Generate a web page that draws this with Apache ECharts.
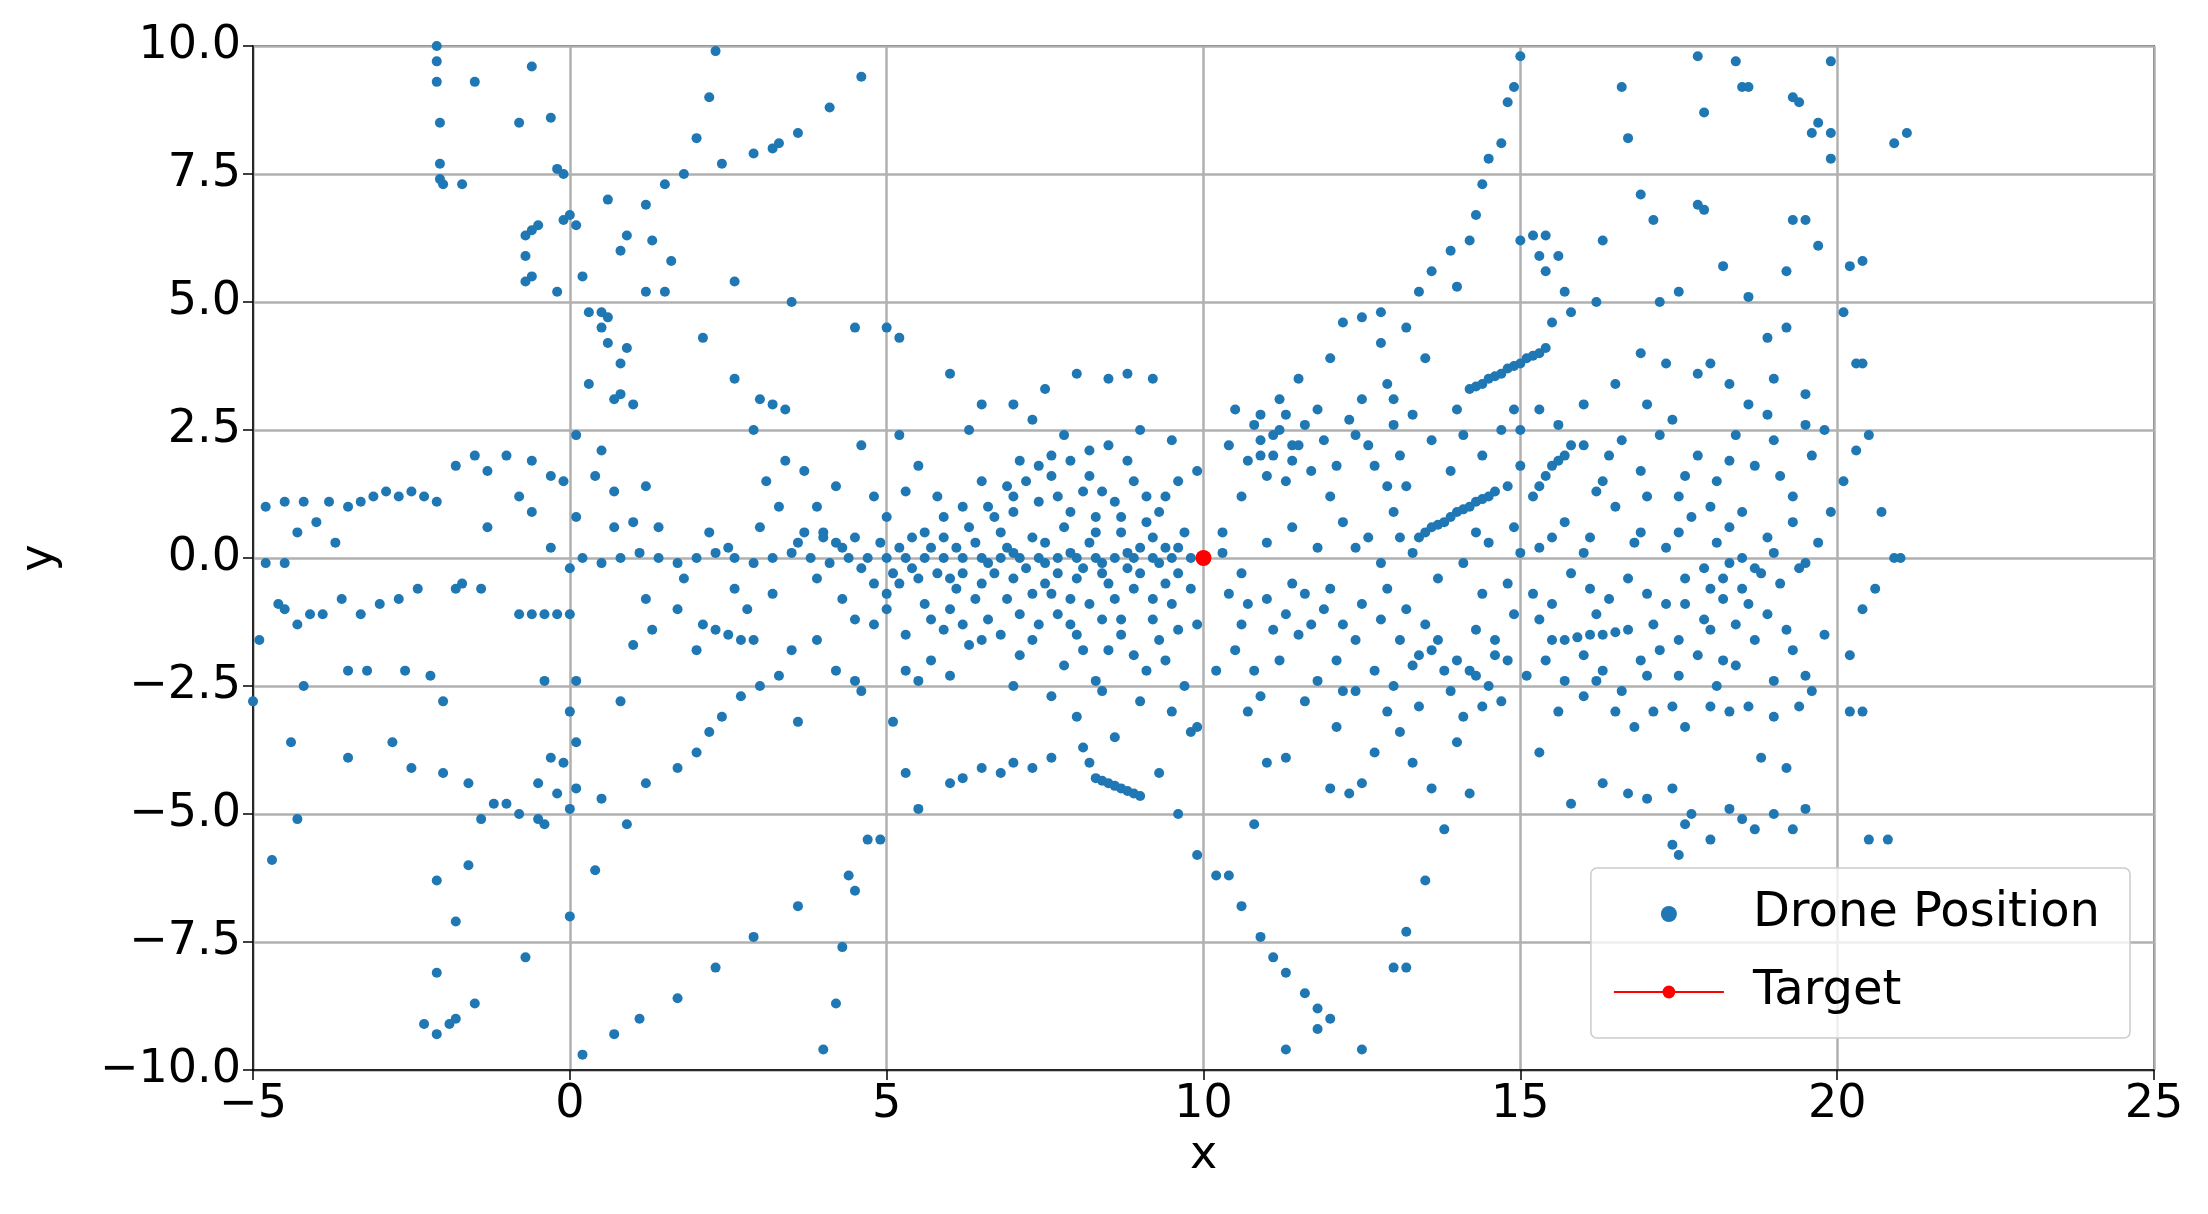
<!DOCTYPE html>
<html><head><meta charset="utf-8">
<script src="https://cdn.jsdelivr.net/npm/echarts@6/dist/echarts.min.js"></script>
<style>html,body{margin:0;padding:0;background:#fff}#c{width:2208px;height:1214px}</style>
</head><body><div id="c"></div>
<script>
const xTicks=[-5,0,5,10,15,20,25];
const yTicks=[-10,-7.5,-5,-2.5,0,2.5,5,7.5,10];
const targetPoint=[[10,0]];
const dronePoints=[
[-2.1,10],[-2.1,9.7],[-2.1,9.3],[-2.05,8.5],[-2.05,7.7],[-2.05,7.4],[-2,7.3],[-1.7,7.3],[-1.5,9.3],[-0.8,8.5],[-0.6,9.6],[-0.3,8.6],[-0.2,7.6],[-0.1,7.5],[-0.7,6.3],[-0.6,6.4],[-0.5,6.5],[-0.7,5.9],[-0.6,5.5],[-0.7,5.4],[-0.1,6.6],[0,6.7],[0.1,6.5],[0.2,5.5],[0.3,4.8],[0.5,4.8],[0.6,4.7],[0.5,4.5],[0.6,4.2],[0.9,4.1],[0.3,3.4],[0.8,3.2],[0.7,3.1],[0.1,2.4],[-0.2,5.2],[0.8,3.8],[1.0,3.0],
[1.2,6.9],[1.5,7.3],[1.8,7.5],[2.0,8.2],[2.2,9.0],[2.3,9.9],[2.4,7.7],[2.9,7.9],[3.2,8.0],[3.3,8.1],[3.6,8.3],[4.1,8.8],[4.6,9.4],[0.9,6.3],[0.6,7.0],[1.3,6.2],[1.6,5.8],[1.5,5.2],[1.2,5.2],[2.1,4.3],[2.6,5.4],[3.5,5.0],[4.5,4.5],[5.0,4.5],[5.2,4.3],[6.0,3.6],[0.8,6.0],
[2.6,3.5],[3.0,3.1],[3.2,3.0],[3.4,2.9],[2.9,2.5],[4.6,2.2],[5.2,2.4],[6.5,3.0],[7.0,3.0],[7.5,3.3],[8.0,3.6],[8.5,3.5],[8.8,3.6],[9.2,3.5],[7.3,2.7],[7.8,2.4],[6.3,2.5],
[-4.8,1.0],[-4.5,1.1],[-4.2,1.1],[-3.8,1.1],[-3.5,1.0],[-3.3,1.1],[-3.1,1.2],[-2.9,1.3],[-2.7,1.2],[-2.5,1.3],[-2.3,1.2],[-2.1,1.1],[-4.0,0.7],[-4.3,0.5],[-3.7,0.3],[-4.8,-0.1],[-4.5,-0.1],
[-4.6,-0.9],[-4.5,-1.0],[-4.3,-1.3],[-4.1,-1.1],[-3.9,-1.1],[-3.6,-0.8],[-3.3,-1.1],[-3.0,-0.9],[-2.7,-0.8],[-2.4,-0.6],[-1.7,-0.5],[-1.4,-0.6],[-4.9,-1.6],[-5,-2.8],[-4.4,-3.6],[-4.7,-5.9],[-4.3,-5.1],[-4.2,-2.5],[-3.5,-2.2],[-3.2,-2.2],[-2.6,-2.2],[-2.2,-2.3],[-3.5,-3.9],[-2.8,-3.6],[-2.5,-4.1],[-2.0,-4.2],[-1.6,-4.4],
[-1.8,1.8],[-1.5,2.0],[-1.3,1.7],[-1.0,2.0],[-0.6,1.9],[-0.3,1.6],[-0.1,1.5],[-1.3,0.6],[-0.8,1.2],[-0.6,0.9],[-0.3,0.2],[0.1,0.8],[0.4,1.6],[0.7,1.3],[0.5,2.1],[1.0,0.7],[1.2,1.4],
[-2.3,-9.1],[-2.1,-9.3],[-1.9,-9.1],[-1.8,-9.0],[-1.5,-8.7],[-1.8,-7.1],[-1.6,-6.0],[-1.4,-5.1],[-1.2,-4.8],[-1.0,-4.8],[-0.8,-5.0],[-0.5,-5.1],[-0.4,-5.2],[-2.1,-8.1],[-2.1,-6.3],[-2.0,-2.8],[-1.8,-0.6],
[0,-1.1],[-0.2,-1.1],[-0.4,-1.1],[-0.6,-1.1],[-0.8,-1.1],[0,-0.2],[0.1,-2.4],[0,-3.0],[-0.1,-4.0],[0,-4.9],[0.1,-4.5],[0,-7.0],[0.2,-9.7],[-0.7,-7.8],[-0.4,-2.4],[-0.3,-3.9],[-0.5,-4.4],[-0.2,-4.6],[0.1,-3.6],
[0.7,-9.3],[1.1,-9.0],[1.7,-8.6],[2.3,-8.0],[2.9,-7.4],[3.6,-6.8],[0.5,-4.7],[1.2,-4.4],[1.7,-4.1],[2.0,-3.8],[2.2,-3.4],[2.4,-3.1],[2.7,-2.7],[3.0,-2.5],[3.3,-2.3],[0.4,-6.1],[0.9,-5.2],[0.8,-2.8],[1.0,-1.7],[1.3,-1.4],
[4.0,-9.6],[4.2,-8.7],[4.3,-7.6],[4.5,-6.5],[4.7,-5.5],[4.9,-5.5],[4.4,-6.2],[3.6,-3.2],[4.2,-2.2],[4.5,-2.4],[5.3,-2.2],[5.5,-2.4],[5.1,-3.2],[5.3,-4.2],[4.6,-2.6],
[2.1,-1.3],[2.3,-1.4],[2.5,-1.5],[2.7,-1.6],[2.9,-1.6],[2.0,-1.8],[1.7,-1.0],[3.5,-1.8],[3.9,-1.6],
[5.5,-4.9],[6.0,-4.4],[6.5,-4.1],[7.0,-4.0],[7.3,-4.1],[7.6,-3.9],[8.1,-3.7],[8.6,-3.5],[6.2,-4.3],[6.8,-4.2],
[10.2,-6.2],[10.4,-6.2],[10.6,-6.8],[10.9,-7.4],[11.1,-7.8],[11.3,-8.1],[11.6,-8.5],[11.8,-8.8],[12.0,-9.0],[12.5,-9.6],[11.3,-9.6],[9.6,-5.0],[9.9,-5.8],[11.8,-9.2],[9.3,-4.2],
[8.3,-4.3],[8.4,-4.35],[8.5,-4.4],[8.6,-4.45],[8.7,-4.5],[8.8,-4.55],[8.9,-4.6],[9.0,-4.65],[8.2,-4.0],[8.0,-3.1],[8.4,-2.6],[9.0,-2.8],[9.5,-3.0],[9.8,-3.4],[9.9,-3.3],
[13.0,-8.0],[13.2,-7.3],[13.2,-8.0],[13.5,-6.3],[13.8,-5.3],[14.2,-4.6],[14.0,-3.6],[14.3,-2.3],[14.4,-2.9],[14.6,-1.6],[14.0,5.3],[14.3,6.7],[14.4,7.3],[14.5,7.8],[14.7,8.1],[14.8,8.9],[14.9,9.2],[15.0,9.8],[14.2,6.2],[13.9,6.0],[13.4,5.2],[13.6,5.6],[13.2,4.5],[12.8,4.2],[12.8,4.8],[12.5,4.7],
[14.2,3.3],[14.3,3.35],[14.4,3.4],[14.5,3.5],[14.6,3.55],[14.7,3.6],[14.8,3.7],[14.9,3.75],[15.0,3.8],[15.1,3.9],[15.2,3.95],[15.3,4.0],[15.4,4.1],
[13.4,0.4],[13.5,0.5],[13.6,0.6],[13.7,0.65],[13.8,0.7],[13.9,0.8],[14.0,0.9],[14.1,0.95],[14.2,1.0],[14.3,1.1],[14.4,1.15],[14.5,1.2],[14.6,1.3],[14.8,1.4],
[15.2,1.2],[15.3,1.4],[15.4,1.6],[15.5,1.8],[15.6,1.9],[15.7,2.0],[15.8,2.2],[15.6,2.6],[15.3,2.9],
[15.5,-1.6],[15.7,-1.6],[15.9,-1.55],[16.1,-1.5],[16.3,-1.5],[16.5,-1.45],[16.7,-1.4],
[15.0,6.2],[15.2,6.3],[15.4,6.3],[15.3,5.9],[15.6,5.9],[15.4,5.6],[15.7,5.2],[15.8,4.8],[16.2,5.0],[15.5,4.6],[16.3,6.2],[17.2,5.0],[17.5,5.2],[16.9,4.0],[17.3,3.8],
[19.9,9.7],[19.9,8.3],[19.9,7.8],[19.7,8.5],[20.2,5.7],[20.4,5.8],[20.3,3.8],[20.4,3.8],[20.5,2.4],[20.7,0.9],[20.9,0],[21.0,0],[20.6,-0.6],[20.4,-1.0],[20.2,-3.0],[20.4,-3.0],[20.5,-5.5],[20.8,-5.5],[20.9,8.1],[21.1,8.3],[20.1,4.8],[20.3,2.1],[20.1,1.5],[19.9,0.9],[20.2,-1.9],[19.8,-1.5],
[16.6,9.2],[16.7,8.2],[17.8,9.8],[17.9,8.7],[18.4,9.7],[18.5,9.2],[18.6,9.2],[19.3,9.0],[19.4,8.9],[19.6,8.3],[17.1,6.6],[17.8,6.9],[17.9,6.8],[18.2,5.7],[18.6,5.1],[19.3,6.6],[19.5,6.6],[19.7,6.1],[16.9,7.1],[19.2,5.6],[18.9,4.3],[19.2,4.5],
[16.5,-3.0],[16.8,-3.3],[17.1,-3.0],[17.4,-2.9],[17.6,-3.3],[18.0,-2.9],[18.3,-3.0],[18.6,-2.9],[19.0,-3.1],[19.4,-2.9],[16.3,-4.4],[16.7,-4.6],[17.0,-4.7],[17.4,-4.5],[17.6,-5.2],[17.5,-5.8],[17.7,-5.0],[18.0,-5.5],[18.3,-4.9],[18.5,-5.1],[18.7,-5.3],[19.0,-5.0],[19.3,-5.3],[19.5,-4.9],[19.2,-4.1],[18.8,-3.9],[15.8,-4.8],[15.3,-3.8],[15.6,-3.0],[16.0,-2.7],[17.4,-5.6],
[12.0,-4.5],[12.3,-4.6],[12.5,-4.4],[12.7,-3.8],[12.1,-3.3],[11.3,-3.9],[11.6,-2.8],[13.3,-4.0],[13.6,-4.5],[11.0,-4.0],[10.8,-5.2],[10.7,-3.0],
[0.2,0.0],[0.5,-0.1],[0.8,0.0],[1.1,0.1],[1.4,0.0],[1.7,-0.1],[2.0,0.0],[2.3,0.1],[2.6,0.0],[2.9,-0.1],[3.2,0.0],[3.5,0.1],[3.8,0.0],[4.1,-0.1],[4.4,0.0],[4.7,0.0],[5.0,0.0],[5.3,0.0],[5.6,0.0],[5.9,0.0],[6.2,0.0],[6.5,0.0],[6.8,0.0],[7.1,0.0],[7.4,0.0],[7.7,0.0],[8.0,0.0],[8.3,0.0],[8.6,0.0],[8.9,0.0],[9.2,0.0],[9.5,0.0],[9.8,0.0],[6.6,-0.1],[7.0,0.1],[7.5,-0.1],[7.9,0.1],[8.4,-0.1],[8.8,0.1],[9.3,-0.1],
[0.7,0.6],[1.4,0.6],[2.2,0.5],[2.5,0.2],[1.8,-0.4],[1.2,-0.8],[2.6,-0.6],[3.0,0.6],[3.3,1.0],[3.1,1.5],[3.4,1.9],[3.7,1.7],[3.9,1.0],[4.0,0.5],[3.6,0.3],[3.9,-0.4],[3.2,-0.7],[2.8,-1.0],[4.3,-0.8],[4.5,-1.2],[4.8,-1.3],[4.2,1.4],[4.8,1.2],[5.0,0.8],[5.3,1.3],[5.5,1.8],[5.8,1.2],[5.6,0.5],[5.2,-0.5],[5.6,-0.9],[5.9,-1.4],[6.1,-0.6],[6.3,0.6],[6.6,1.0],[6.9,1.4],[7.2,1.5],[7.4,1.8],[7.6,1.6],[7.9,1.9],[8.1,1.3],[8.3,0.8],[8.6,1.1],[8.9,1.5],[9.1,0.7],[9.4,1.2],[9.7,0.5],[9.9,1.7],[9.5,2.3],[9.0,2.5],[8.5,2.2],
[6.3,-1.7],[6.6,-1.2],[6.9,-0.8],[7.1,-1.9],[7.4,-1.3],[7.6,-0.7],[7.8,-2.1],[8.0,-1.5],[8.2,-0.9],[8.5,-1.8],[8.7,-1.2],[8.9,-0.6],[9.1,-2.2],[9.3,-1.6],[9.5,-0.9],[9.7,-2.5],[9.9,-1.3],[6.0,-2.3],[5.7,-2.0],[7.0,-2.5],[7.6,-2.7],[8.3,-2.4],[9.4,-2.0],
[4.5,0.4],[4.9,0.3],[5.4,0.4],[5.8,-0.3],[6.4,0.3],[6.8,0.5],[7.3,0.4],[7.8,0.6],[8.2,0.3],[8.7,0.5],[9.2,0.4],[9.6,0.2],[5.1,-0.3],[5.5,-0.4],[6.0,-0.4],[6.5,-0.5],[7.0,-0.4],[7.5,-0.5],[8.0,-0.4],[8.5,-0.5],[9.0,-0.3],[9.4,-0.5],[3.7,0.5],[4.0,0.4],[4.2,0.3],
[4.3,0.2],[4.6,-0.2],[4.8,-0.5],[5.0,-0.7],[5.2,0.2],[5.4,-0.2],[5.7,0.2],[5.9,0.4],[6.1,0.2],[6.2,-0.3],[6.4,-0.8],[6.7,-0.3],[6.9,0.2],[7.2,-0.2],[7.3,-0.7],[7.5,0.3],[7.7,-0.3],[7.9,-0.8],[8.1,-0.2],[8.3,0.5],[8.4,-0.3],[8.6,-0.8],[8.8,-0.2],[9.0,0.2],[9.2,-0.8],[9.4,0.2],[9.6,-0.3],[9.8,-0.6],
[5.0,-1.0],[5.3,-1.5],[5.7,-1.2],[6.0,-1.0],[6.2,-1.3],[6.5,-1.6],[6.8,-1.5],[7.1,-1.1],[7.3,-1.6],[7.7,-1.1],[7.9,-1.3],[8.1,-1.8],[8.4,-1.2],[8.7,-1.5],[8.9,-1.9],[9.2,-1.2],[9.6,-1.4],
[5.9,0.8],[6.2,1.0],[6.5,1.5],[6.7,0.8],[7.0,0.9],[7.1,1.9],[7.4,1.1],[7.7,1.2],[7.9,0.9],[8.2,1.6],[8.4,1.3],[8.7,0.8],[8.8,1.9],[9.1,1.2],[9.3,0.9],[9.6,1.5],[7.0,1.2],[7.6,2.0],[8.2,2.1],
[10.3,0.5],[10.6,1.2],[10.9,2.0],[11.1,2.4],[11.3,2.8],[11.5,2.2],[11.7,1.7],[11.0,1.6],[10.8,2.6],[10.5,2.9],[11.2,3.1],[11.6,2.6],[11.9,2.3],[12.1,1.8],[12.3,2.7],[12.6,2.2],[12.9,1.4],[13.1,2.0],[13.3,2.8],[13.6,2.3],[13.9,1.7],[14.1,2.4],[14.4,2.0],[14.7,2.5],[15.0,1.8],[15.0,2.5],[16.0,2.2],[16.3,1.5],[16.6,2.3],[16.9,1.7],[17.2,2.4],[17.5,1.2],[17.8,2.0],[18.1,1.5],[18.4,2.4],[18.7,1.8],[19.0,2.3],[19.3,1.2],[19.6,2.0],[10.9,2.3],[11.1,2.0],[11.4,1.9],[10.7,1.9],
[10.4,-0.7],[10.7,-0.9],[11.0,-0.8],[11.3,-1.1],[11.6,-0.7],[11.9,-1.0],[12.2,-1.3],[12.5,-0.9],[12.8,-1.2],[13.1,-1.6],[13.4,-1.9],[13.7,-1.6],[14.0,-2.0],[14.3,-1.4],[14.6,-1.9],[14.9,-1.1],[15.2,-0.7],[15.5,-0.9],[15.8,-0.3],[16.1,-0.6],[16.4,-0.8],[16.7,-0.4],[17.0,-0.7],[17.3,-0.9],[17.6,-0.4],[17.9,-0.2],[18.2,-0.4],[18.5,-0.6],[18.8,-0.3],[19.1,-0.5],[19.4,-0.2],
[10.5,-1.8],[10.8,-2.2],[11.2,-2.0],[11.5,-1.5],[11.8,-2.4],[12.1,-2.0],[12.4,-2.6],[12.7,-2.2],[13.0,-2.5],[13.3,-2.1],[13.6,-1.8],[13.9,-2.6],[14.2,-2.2],[14.5,-2.5],[14.8,-2.0],[15.1,-2.3],[15.4,-2.0],[15.7,-2.4],[16.0,-1.9],[16.3,-2.2],[16.6,-2.6],[16.9,-2.0],[17.2,-1.8],[17.5,-2.3],[17.8,-1.9],[18.1,-2.5],[18.4,-2.1],[18.7,-1.6],[19.0,-2.4],[19.3,-1.8],[19.6,-2.6],
[10.3,0.1],[10.6,-0.3],[11.0,0.3],[11.4,0.6],[11.8,0.2],[12.2,0.7],[12.6,0.4],[13.0,0.9],[13.3,0.1],[13.7,-0.4],[14.1,-0.1],[14.5,0.3],[14.9,0.6],[15.3,0.2],[15.7,0.7],[16.1,0.4],[16.5,1.0],[16.9,0.5],[17.3,0.2],[17.7,0.8],[18.1,0.3],[18.5,0.9],[18.9,0.4],[19.3,0.7],[19.7,0.3],[17.0,1.2],[18.0,1.0],[12.0,1.2],[13.2,1.4],[16.2,1.3],
[11.5,3.5],[12.0,3.9],[12.2,4.6],[12.9,3.4],[13.5,3.9],[14.0,2.9],[16.5,3.4],[17.0,3.0],[17.8,3.6],[18.0,3.8],[18.3,3.4],[18.6,3.0],[19.0,3.5],[19.5,3.2],[19.8,2.5],[16.0,3.0],[17.4,2.7],[18.9,2.8],
[17.6,-0.9],[17.9,-1.2],[18.2,-0.8],[18.4,-1.3],[18.6,-0.9],[18.0,-0.6],[18.3,-0.1],[18.5,0.0],[18.7,-0.2],
[10.4,2.2],[10.9,2.8],[11.2,2.5],[11.4,2.2],[11.8,2.9],[12.4,2.4],[11.3,1.5],[12.7,1.8],[13.0,2.6],[10.6,-1.3],[11.1,-1.4],[11.4,-0.5],[11.7,-1.3],[12.0,-0.6],[12.4,-1.6],[12.9,-0.6],[13.2,-1.0],[13.5,-1.3],[13.8,-2.2],[14.4,-0.7],[14.8,-0.5],[15.3,-1.2],[16.2,-1.1],[17.1,-1.3],[17.5,-1.6],[18.0,-1.4],[18.9,-1.1],[19.2,-1.4],
[12.2,-2.6],[12.9,-3.0],[13.4,-2.9],[13.1,-3.4],[14.1,-3.1],[14.7,-2.8],[10.9,-2.7],[10.2,-2.2],[16.2,-2.4],[17.0,-2.3],[18.2,-2.0],[19.5,-2.3],
[12.4,0.2],[12.8,-0.1],[13.1,0.4],[14.3,0.5],[15.0,0.1],[15.5,0.4],[16.0,0.1],[16.8,0.3],[17.5,0.5],[18.3,0.6],[19.0,0.1],[19.5,-0.1],[16.4,2.0],[17.6,1.6],[18.3,1.9],[19.1,1.6],[19.5,2.6],[12.5,3.1],[13.0,3.1],[14.9,2.9]
];
const fmt=v=>String(v).replace('-','\u2212');
const chart=echarts.init(document.getElementById('c'));
const F='DejaVu Sans';
chart.setOption({
  animation:false,
  grid:{left:253,right:54,top:46,bottom:144,show:true,borderColor:'#000',borderWidth:1.5,containLabel:false,outerBoundsMode:'none'},
  xAxis:{type:'value',min:-5,max:25,interval:5,name:'x',nameLocation:'middle',nameGap:62,
    nameTextStyle:{fontSize:46,fontFamily:F,color:'#000'},
    axisLine:{show:true,onZero:false,lineStyle:{color:'#000',width:1.5}},
    axisTick:{show:true,inside:false,length:10,lineStyle:{color:'#000',width:1.5}},
    axisLabel:{fontSize:46,fontFamily:F,color:'#000',margin:12,formatter:v=>fmt(v)},
    splitLine:{show:true,lineStyle:{color:'#b0b0b0',width:2.5}}},
  yAxis:{type:'value',min:-10,max:10,interval:2.5,name:'y',nameLocation:'middle',nameGap:190,
    nameTextStyle:{fontSize:46,fontFamily:F,color:'#000'},
    axisLine:{show:true,onZero:false,lineStyle:{color:'#000',width:1.5}},
    axisTick:{show:true,inside:false,length:10,lineStyle:{color:'#000',width:1.5}},
    axisLabel:{fontSize:46,fontFamily:F,color:'#000',margin:12,formatter:v=>fmt(v.toFixed(1))},
    splitLine:{show:true,lineStyle:{color:'#b0b0b0',width:2.5}}},
  legend:{right:78,bottom:176,orient:'vertical',itemGap:30,itemWidth:110,itemHeight:16,
    padding:[22,30,22,22],borderColor:'#ccc',borderWidth:1.5,borderRadius:6,backgroundColor:'rgba(255,255,255,0.8)',
    textStyle:{fontSize:48,fontFamily:F,color:'#000',padding:[0,0,0,24]},
    data:[{name:'Drone Position',icon:'circle',itemStyle:{color:'#1f77b4'}},{name:'Target'}]},
  series:[
    {name:'Drone Position',type:'scatter',data:dronePoints,symbolSize:10,progressive:0,large:false,itemStyle:{color:'#1f77b4',opacity:1},z:2},
    {name:'Target',type:'line',data:targetPoint,symbol:'circle',symbolSize:16,lineStyle:{color:'#ff0000',width:2},itemStyle:{color:'#ff0000'},z:3}
  ]
});
</script></body></html>
